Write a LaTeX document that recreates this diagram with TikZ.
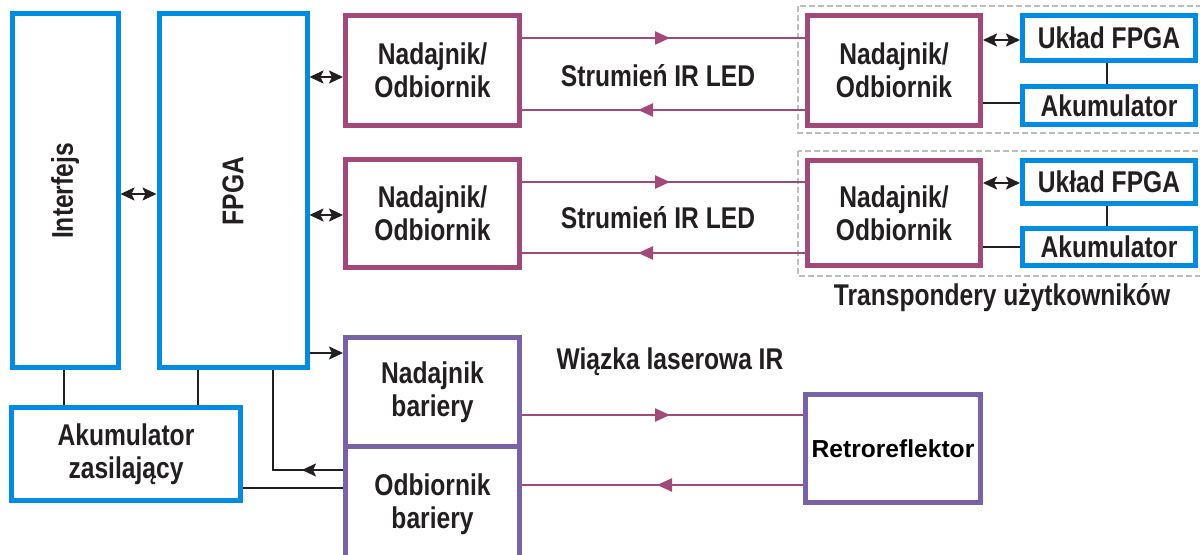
\documentclass[tikz,border=0pt]{standalone}
\usepackage{fontspec}
\setmainfont{Liberation Sans}
\newfontfamily\narrowfam[FakeStretch=0.82]{Liberation Sans}
\usetikzlibrary{arrows.meta,decorations.markings}
\definecolor{bluebox}{HTML}{008CE4}
\definecolor{magbox}{HTML}{A3497A}
\definecolor{purbox}{HTML}{7A62A8}
\definecolor{txt}{HTML}{231F20}
\definecolor{dashc}{HTML}{B8C0B8}
\newcommand\lab{\narrowfam\bfseries\fontsize{15}{16.5}\selectfont}
\tikzset{
  x=0.5pt, y=-0.5pt,
  box/.style={draw, line width=2.5pt, fill=white, inner sep=0pt, align=center, text=txt, font=\lab},
  bbox/.style={box, draw=bluebox},
  mbox/.style={box, draw=magbox},
  pbox/.style={box, draw=purbox},
  conn/.style={draw=txt, line width=1pt},
  stl/.tip={Stealth[length=7pt,width=6.5pt,inset=1.5pt]},
  beam/.style={draw=magbox, line width=1.2pt, postaction={decorate},
    decoration={markings, mark=at position #1 with {\arrow{Triangle[length=7.5pt,width=6.5pt]}}}},
  dashbox/.style={draw=dashc, line width=0.6pt, dash pattern=on 3pt off 1.5pt},
  plain/.style={text=txt, font=\lab, inner sep=0pt, align=center},
}
\begin{document}
\begin{tikzpicture}
\useasboundingbox (0,0) rectangle (1200,555);
% dashed transponder frames
\draw[dashbox] (798,6) rectangle (1215,133);
\draw[dashbox] (798,151) rectangle (1215,276);
% left blocks
\node[bbox, minimum width=53pt, minimum height=177pt, label={[name=intftext, rotate=90, plain]center:Interfejs}] (intf) at (65,191) {};
\node[bbox, minimum width=74pt, minimum height=177pt, label={[name=fpgatext, rotate=90, plain]center:FPGA}] (fpga) at (233,191) {};
\node[bbox, minimum width=114.5pt, minimum height=46.5pt] (akz) at (126,454) {Akumulator\\zasilający};
% transceivers
\node[mbox, minimum width=87pt, minimum height=55pt] (no1) at (432.5,70.5) {Nadajnik/\\Odbiornik};
\node[mbox, minimum width=87pt, minimum height=54pt] (no2) at (432.5,213.5) {Nadajnik/\\Odbiornik};
% barrier
\node[pbox, minimum width=87pt, minimum height=57.5pt] (ob) at (432.5,504.5) {Odbiornik\\bariery};
\node[pbox, minimum width=87pt, minimum height=54.75pt] (nb) at (432.5,392.25) {Nadajnik\\bariery};
\node[pbox, minimum width=87.5pt, minimum height=54pt, text=black, font=\bfseries\fontsize{12.3}{14}\selectfont] (retro) at (893,448.5) {Retroreflektor};
% transponders
\node[mbox, minimum width=86.5pt, minimum height=55pt] (tno1) at (894,70.5) {Nadajnik/\\Odbiornik};
\node[mbox, minimum width=86.5pt, minimum height=52.5pt] (tno2) at (894,213) {Nadajnik/\\Odbiornik};
\node[bbox, minimum width=86.5pt, minimum height=22.5pt] (uf1) at (1109,38) {Układ FPGA};
\node[bbox, minimum width=86.5pt, minimum height=19pt] (ak1) at (1109,105.5) {Akumulator};
\node[bbox, minimum width=86.5pt, minimum height=21.5pt] (uf2) at (1109,182) {Układ FPGA};
\node[bbox, minimum width=86.5pt, minimum height=18.5pt] (ak2) at (1109,247) {Akumulator};
% labels
\node[plain] (s1) at (658,76) {Strumień IR LED};
\node[plain] (s2) at (658,218) {Strumień IR LED};
\node[plain] (wl) at (670,362) {Wiązka laserowa IR};
\node[plain] (tu) at (1002,298) {Transpondery użytkowników};
% black connectors
\draw[conn, stl-stl] (intf.east |- 0,194) -- (fpga.west |- 0,194);
\draw[conn, stl-stl] (fpga.east |- 0,77) -- (no1.west |- 0,77);
\draw[conn, stl-stl] (fpga.east |- 0,215) -- (no2.west |- 0,215);
\draw[conn, -stl] (fpga.east |- 0,353) -- (nb.west |- 0,353);
\coordinate (corner) at (273,470);
\draw[conn, postaction={decorate}, decoration={markings, mark=at position 20.5pt with {\arrow{stl}}}] (ob.west |- corner) -- (corner) -- (fpga.south -| corner);
\draw[conn] (akz.east |- 0,488) -- (ob.west |- 0,488);
\draw[conn] (intf.south -| 64,0) -- (akz.north -| 64,0);
\draw[conn] (fpga.south -| 198,0) -- (akz.north -| 198,0);
\draw[conn, stl-stl] (tno1.east |- 0,40) -- (uf1.west |- 0,40);
\draw[conn] (tno1.east |- 0,103) -- (ak1.west |- 0,103);
\draw[conn] (uf1.south -| 1107,0) -- (ak1.north -| 1107,0);
\draw[conn, stl-stl] (tno2.east |- 0,183) -- (uf2.west |- 0,183);
\draw[conn] (tno2.east |- 0,247) -- (ak2.west |- 0,247);
\draw[conn] (uf2.south -| 1107,0) -- (ak2.north -| 1107,0);
% IR beams
\draw[beam=74pt] (no1.east |- 0,38) -- (tno1.west |- 0,38);
\draw[beam=83.5pt] (tno1.west |- 0,110) -- (no1.east |- 0,110);
\draw[beam=74pt] (no2.east |- 0,182) -- (tno2.west |- 0,182);
\draw[beam=83.5pt] (tno2.west |- 0,253) -- (no2.east |- 0,253);
\draw[beam=74pt] (nb.east |- 0,415) -- (retro.west |- 0,415);
\draw[beam=73pt] (retro.west |- 0,485) -- (ob.east |- 0,485);
\end{tikzpicture}
\end{document}
